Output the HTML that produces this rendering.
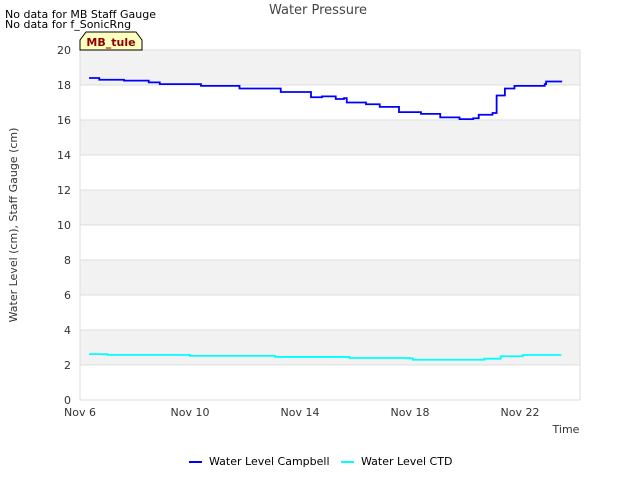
<!DOCTYPE html>
<html><head><meta charset="utf-8"><style>
body{margin:0;background:#fff;font-family:"Liberation Sans","DejaVu Sans",sans-serif;}
svg text{font-family:"DejaVu Sans","Liberation Sans",sans-serif;}
</style></head><body>
<svg id="c" width="640" height="480" xmlns="http://www.w3.org/2000/svg">
<text x="5" y="18" font-size="11" fill="#000">No data for MB Staff Gauge</text>
<text x="5" y="28" font-size="11" fill="#000">No data for f_SonicRng</text>
<text x="318" y="14" font-size="13" fill="#444" text-anchor="middle">Water Pressure</text>
<g id="grid"></g>
<g id="series"></g>
<path d="M80,50 L80,40 L86,32 L136,32 L142,40 L142,50 Z" fill="#ffffc0" stroke="#000" stroke-width="1"/>
<text x="111" y="46" font-size="11" font-weight="bold" fill="#8b0000" text-anchor="middle">MB_tule</text>
<text x="566" y="433" font-size="11" fill="#333" text-anchor="middle">Time</text>
<text transform="translate(17,225) rotate(-90)" font-size="11" fill="#333" text-anchor="middle">Water Level (cm), Staff Gauge (cm)</text>
<g>
<line x1="189" y1="462" x2="202" y2="462" stroke="#0000ff" stroke-width="2"/>
<text x="209" y="465" font-size="11" fill="#000">Water Level Campbell</text>
<line x1="341" y1="462" x2="354" y2="462" stroke="#00ffff" stroke-width="2"/>
<text x="361" y="465" font-size="11" fill="#000">Water Level CTD</text>
</g>
</svg>
<script>
const yTicks=[0,2,4,6,8,10,12,14,16,18,20];
const xTickDays=[0,4,8,12,16];
const xTickLabels=["Nov 6","Nov 10","Nov 14","Nov 18","Nov 22"];
const campDays=[0.33,0.7,1.6,2.5,2.9,4.4,5.8,7.3,8.4,8.8,9.3,9.6,9.7,10.4,10.9,11.6,12.4,13.1,13.8,14.3,14.5,15.0,15.15,15.45,15.8,16.9,16.95,17.5];
const campVals=[18.4,18.3,18.25,18.15,18.05,17.95,17.8,17.6,17.3,17.35,17.2,17.25,17.0,16.9,16.75,16.45,16.35,16.15,16.05,16.1,16.3,16.4,17.4,17.8,17.95,18.05,18.2,18.25];
const ctdDays=[0.33,1.0,3.8,4.0,7.0,7.1,9.7,9.8,12.0,12.1,14.6,14.7,15.1,15.3,15.9,16.1,17.5];
const ctdVals=[2.62,2.58,2.58,2.52,2.52,2.46,2.46,2.4,2.38,2.3,2.3,2.36,2.36,2.5,2.5,2.57,2.57];
const X0=80,X1=580,Y0=400,Y1=50;
const xs=d=>X0+d*27.5;
const ys=v=>Y0-(v/20)*(Y0-Y1);
const NS="http://www.w3.org/2000/svg";
const grid=document.getElementById('grid'),ser=document.getElementById('series');
for(let i=0;i<yTicks.length-1;i++){
  if(i%2===1){const r=document.createElementNS(NS,'rect');
  r.setAttribute('x',X0);r.setAttribute('y',ys(yTicks[i+1]));r.setAttribute('width',X1-X0);r.setAttribute('height',ys(yTicks[i])-ys(yTicks[i+1]));r.setAttribute('fill','#f2f2f2');
  
  
  grid.appendChild(r);}
}
yTicks.forEach(v=>{
  const l=document.createElementNS(NS,'line');
  l.setAttribute('x1',X0);l.setAttribute('x2',X1);l.setAttribute('y1',ys(v));l.setAttribute('y2',ys(v));l.setAttribute('stroke','#ddd');
  
  
  grid.appendChild(l);
  const t=document.createElementNS(NS,'text');
  t.setAttribute('x',71);t.setAttribute('y',ys(v)+4);t.setAttribute('font-size','11');t.setAttribute('fill','#333');t.setAttribute('text-anchor','end');t.textContent=v;
  
  
  grid.appendChild(t);
});
const fr=document.createElementNS(NS,'rect');
fr.setAttribute('x',X0);fr.setAttribute('y',Y1);fr.setAttribute('width',X1-X0);fr.setAttribute('height',Y0-Y1);fr.setAttribute('fill','none');fr.setAttribute('stroke','#ddd');


grid.appendChild(fr);
xTickDays.forEach((d,i)=>{
  const t=document.createElementNS(NS,'text');
  t.setAttribute('x',xs(d));t.setAttribute('y',416);t.setAttribute('font-size','11');t.setAttribute('fill','#333');t.setAttribute('text-anchor','middle');t.textContent=xTickLabels[i];
  
  
  grid.appendChild(t);
});
function line(days,vals,color,name){
  let d='';
  for(let i=0;i<days.length;i++){
    if(i===0)d+='M'+xs(days[i])+','+ys(vals[i]);
    else d+=' H'+xs(days[i])+' V'+ys(vals[i]);
  }
  const p=document.createElementNS(NS,'path');
  p.setAttribute('d',d);p.setAttribute('fill','none');p.setAttribute('stroke',color);p.setAttribute('stroke-width','1.8');
  
  
  ser.appendChild(p);
}
line(campDays,campVals,'#0000ff','series-campbell');
line(ctdDays,ctdVals,'#00ffff','series-ctd');
</script>
</body></html>
